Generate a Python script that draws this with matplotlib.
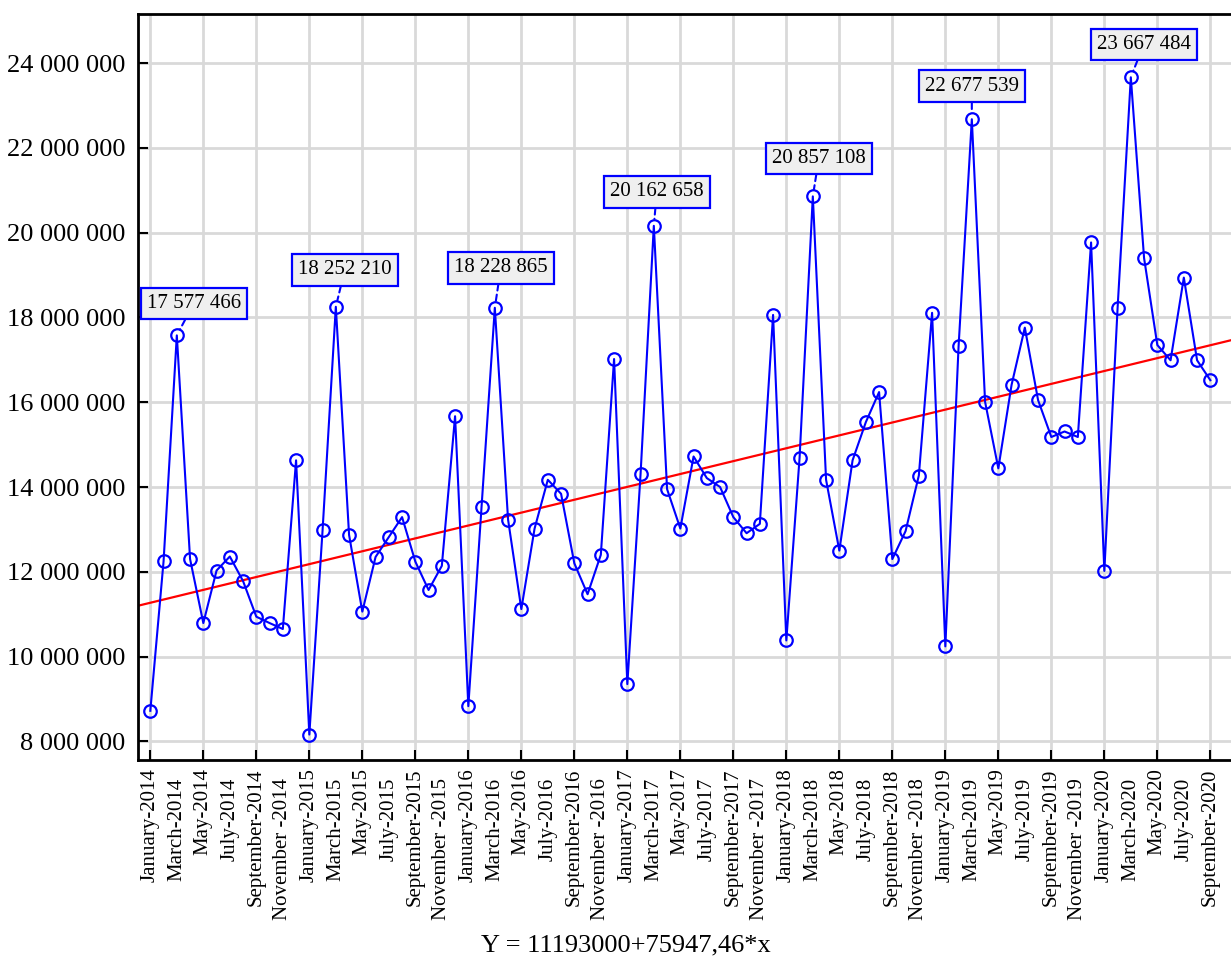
import matplotlib
matplotlib.use("Agg")
import matplotlib.pyplot as plt
from matplotlib.ticker import FuncFormatter, FixedLocator
import numpy as np

plt.rcParams['font.family'] = ['Liberation Serif', 'DejaVu Serif']

# monthly values, January 2014 .. September 2020
values = [
    8.72e6, 12.25e6, 17577466, 12.30e6, 10.79e6, 12.03e6, 12.36e6, 11.78e6, 10.94e6, 10.79e6, 10.65e6, 14.63e6,
    8.16e6, 12.98e6, 18252210, 12.87e6, 11.06e6, 12.35e6, 12.82e6, 13.29e6, 12.24e6, 11.57e6, 12.14e6, 15.67e6,
    8.83e6, 13.54e6, 18228865, 13.23e6, 11.12e6, 13.02e6, 14.17e6, 13.84e6, 12.20e6, 11.47e6, 12.40e6, 17.02e6,
    9.35e6, 14.31e6, 20162658, 13.95e6, 13.02e6, 14.72e6, 14.21e6, 14.00e6, 13.29e6, 12.91e6, 13.13e6, 18.06e6,
    10.38e6, 14.69e6, 20857108, 14.17e6, 12.50e6, 14.63e6, 15.53e6, 16.24e6, 12.30e6, 12.96e6, 14.27e6, 18.11e6,
    10.24e6, 17.32e6, 22677539, 16.01e6, 14.44e6, 16.41e6, 17.76e6, 16.05e6, 15.18e6, 15.31e6, 15.18e6, 19.77e6,
    12.02e6, 18.22e6, 23667484, 19.40e6, 17.35e6, 16.99e6, 18.94e6, 16.99e6, 16.52e6,
]

months = ['January', 'March', 'May', 'July', 'September', 'November ']
years = list(range(2014, 2021))
labels = []
for y in years:
    for m in months:
        labels.append(m + '-' + str(y))
labels = labels[:len(range(0, len(values), 2))]

# peaks that carry a value box
peaks = [2, 14, 26, 38, 50, 62, 74]
peak_offsets = [(17, 32), (9, 37), (6, 40), (3, 34), (6, 38), (0, 33), (13, 33)]

intercept = 11193000
slope = 75947.46

fig = plt.figure(figsize=(12.31, 9.6), dpi=100)
ax = fig.add_axes([138 / 1231, 200 / 960, 1 - 138 / 1231, 746 / 960])

x = np.arange(len(values))
ax.plot(x, values, color='blue', lw=1.5, marker='o', ms=9, mfc='none', mec='blue', mew=1.6, zorder=3)

xl = (-0.93, 81.56)
xt = np.array(xl)
ax.plot(xt, intercept + slope * (xt + 1), color='red', lw=1.6, zorder=2)

for i, (dx, dy) in zip(peaks, peak_offsets):
    txt = '{:,}'.format(int(values[i])).replace(',', ' ')
    ax.annotate(txt, xy=(i, values[i]), xytext=(dx, dy), textcoords='offset pixels',
                ha='center', va='center', fontsize=15, zorder=5,
                bbox=dict(boxstyle='square,pad=0.3', fc='#efefef', ec='blue', lw=1.6),
                arrowprops=dict(arrowstyle='-', color='blue', lw=1.5, ls=(0, (3, 2)),
                                shrinkA=0, shrinkB=5))

ax.set_xlim(*xl)
ax.set_ylim(7.559e6, 25.16e6)

ax.xaxis.set_major_locator(FixedLocator(np.arange(0, len(values), 4)))
ax.xaxis.set_minor_locator(FixedLocator(np.arange(2, len(values), 4)))
ax.set_xticklabels(labels[0::2], rotation=90, fontsize=15)
ax.set_xticklabels(labels[1::2], minor=True, rotation=90, fontsize=15)
ax.tick_params(axis='x', which='major', direction='in', length=7, width=1.5, pad=6)
ax.tick_params(axis='x', which='minor', length=0, pad=13)

ax.set_yticks(np.arange(8e6, 24.1e6, 2e6))
ax.yaxis.set_major_formatter(FuncFormatter(lambda v, p: '{:,}'.format(int(v)).replace(',', ' ')))
ax.tick_params(axis='y', direction='in', length=7, width=1.5, labelsize=19, pad=9)

ax.grid(True, which='major', color='#d9d9d9', lw=2, zorder=0)
ax.set_axisbelow(True)

for s in ['left', 'bottom', 'top']:
    ax.spines[s].set_linewidth(2)
ax.spines['right'].set_visible(False)

fig.text(626 / 1231, 1 - 945 / 960, 'Y = 11193000+75947,46*x', ha='center', va='center', fontsize=19)

fig.savefig('out.png', dpi=100)
